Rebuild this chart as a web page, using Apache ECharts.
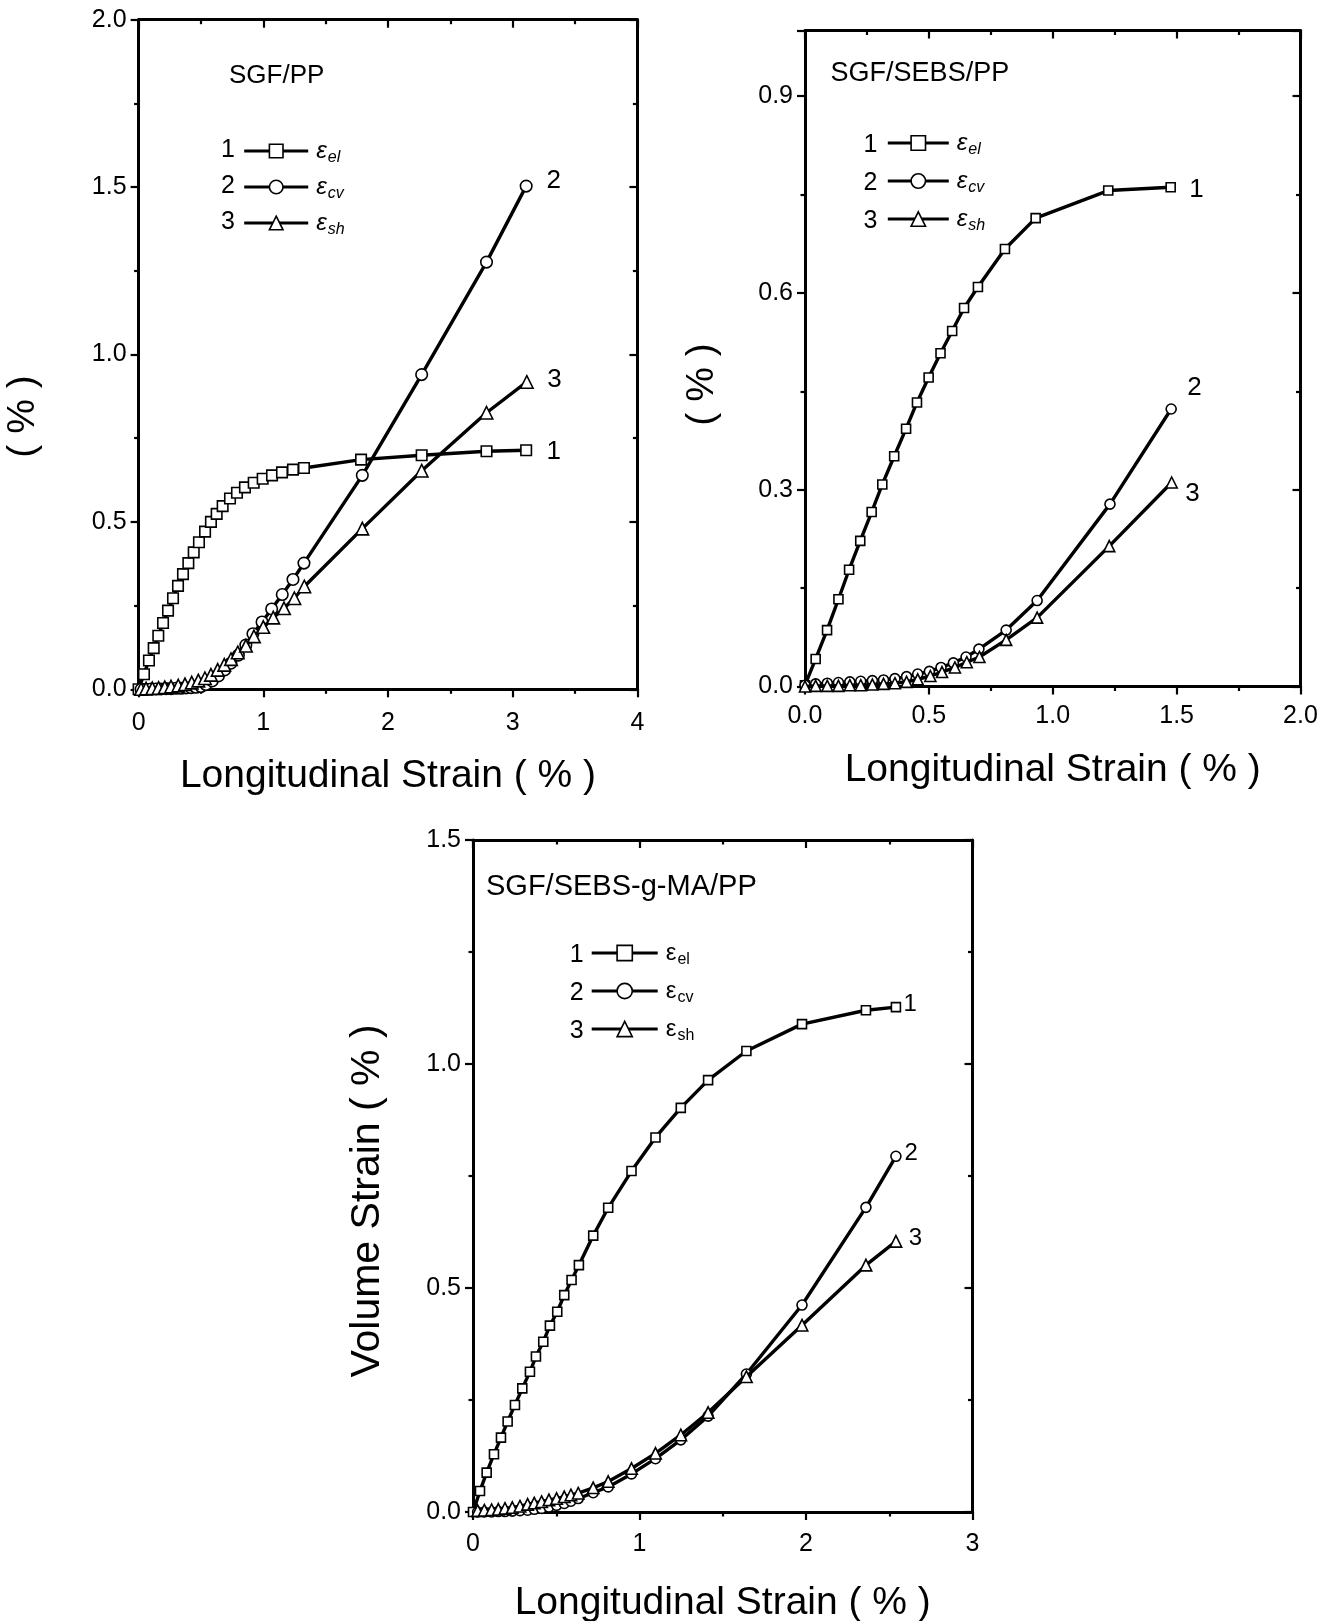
<!DOCTYPE html>
<html><head><meta charset="utf-8">
<script src="https://cdn.jsdelivr.net/npm/echarts@6/dist/echarts.min.js"></script>
<style>html,body{margin:0;padding:0;background:#fff}#c{width:1330px;height:1621px}</style>
</head><body><div id="c"></div><script>
// ---------------- DATA ----------------
// Panel 1 : SGF/PP
const p1_el_x = [0, 0.043, 0.083, 0.121, 0.158, 0.196, 0.236, 0.276, 0.316, 0.356, 0.399, 0.442, 0.484, 0.533, 0.58, 0.626, 0.674, 0.733, 0.789, 0.853, 0.923, 0.995, 1.07, 1.15, 1.238, 1.326, 1.784, 2.27, 2.79, 3.108];
const p1_el_y = [0, 0.045, 0.086, 0.123, 0.16, 0.198, 0.235, 0.272, 0.309, 0.344, 0.377, 0.409, 0.439, 0.471, 0.5, 0.524, 0.547, 0.57, 0.587, 0.603, 0.617, 0.629, 0.639, 0.648, 0.656, 0.661, 0.686, 0.699, 0.711, 0.714];
const p1_cv_x = [0.02, 0.06, 0.10, 0.14, 0.18, 0.22, 0.26, 0.30, 0.34, 0.38, 0.42, 0.46, 0.50, 0.54, 0.59, 0.64, 0.69, 0.74, 0.80, 0.86, 0.917, 0.99, 1.067, 1.152, 1.238, 1.326, 1.794, 2.27, 2.79, 3.108];
const p1_cv_y = [0.000, 0.000, 0.001, 0.001, 0.001, 0.002, 0.002, 0.003, 0.003, 0.004, 0.005, 0.006, 0.008, 0.014, 0.025, 0.040, 0.058, 0.078, 0.102, 0.132, 0.166, 0.201, 0.240, 0.283, 0.328, 0.377, 0.639, 0.940, 1.276, 1.503];
const p1_sh_x = [0.02, 0.06, 0.11, 0.16, 0.21, 0.26, 0.318, 0.372, 0.426, 0.479, 0.532, 0.58, 0.634, 0.687, 0.741, 0.795, 0.861, 0.925, 1.0, 1.08, 1.166, 1.249, 1.329, 1.794, 2.27, 2.79, 3.113];
const p1_sh_y = [0.001, 0.002, 0.003, 0.004, 0.006, 0.008, 0.011, 0.015, 0.020, 0.026, 0.033, 0.043, 0.058, 0.073, 0.090, 0.110, 0.130, 0.158, 0.186, 0.214, 0.242, 0.272, 0.307, 0.480, 0.653, 0.826, 0.918];
// Panel 2 : SGF/SEBS/PP
const p2_el_x = [0, 0.043, 0.089, 0.135, 0.178, 0.223, 0.269, 0.312, 0.360, 0.408, 0.452, 0.499, 0.547, 0.594, 0.642, 0.698, 0.807, 0.931, 1.224, 1.476];
const p2_el_y = [0.002, 0.042, 0.086, 0.133, 0.178, 0.222, 0.266, 0.308, 0.351, 0.393, 0.433, 0.471, 0.508, 0.542, 0.577, 0.609, 0.667, 0.714, 0.756, 0.761];
const p2_cv_x = [0.0, 0.043, 0.090, 0.135, 0.181, 0.225, 0.272, 0.317, 0.363, 0.41, 0.455, 0.502, 0.549, 0.599, 0.65, 0.702, 0.812, 0.937, 1.231, 1.478];
const p2_cv_y = [0.002, 0.004, 0.005, 0.006, 0.007, 0.008, 0.009, 0.010, 0.012, 0.015, 0.019, 0.023, 0.029, 0.036, 0.045, 0.057, 0.086, 0.131, 0.278, 0.423];
const p2_sh_x = [0.0, 0.043, 0.090, 0.135, 0.181, 0.225, 0.272, 0.317, 0.363, 0.41, 0.455, 0.506, 0.553, 0.605, 0.653, 0.704, 0.812, 0.937, 1.228, 1.48];
const p2_sh_y = [0.000, 0.001, 0.001, 0.001, 0.002, 0.002, 0.003, 0.004, 0.005, 0.007, 0.011, 0.016, 0.022, 0.029, 0.037, 0.045, 0.071, 0.105, 0.214, 0.311];
// Panel 3 : SGF/SEBS-g-MA/PP
const p3_el_x = [0, 0.042, 0.082, 0.126, 0.168, 0.208, 0.252, 0.296, 0.342, 0.378, 0.422, 0.462, 0.506, 0.548, 0.592, 0.636, 0.722, 0.812, 0.952, 1.096, 1.248, 1.412, 1.642, 1.976, 2.36, 2.54];
const p3_el_y = [0, 0.047, 0.088, 0.129, 0.166, 0.202, 0.239, 0.276, 0.313, 0.347, 0.380, 0.416, 0.447, 0.484, 0.518, 0.551, 0.617, 0.679, 0.761, 0.836, 0.902, 0.964, 1.029, 1.089, 1.12, 1.127];
const p3_cv_x = [0.028, 0.068, 0.112, 0.152, 0.192, 0.236, 0.282, 0.328, 0.368, 0.412, 0.456, 0.502, 0.548, 0.588, 0.632, 0.722, 0.812, 0.952, 1.096, 1.248, 1.412, 1.642, 1.976, 2.36, 2.54];
const p3_cv_y = [0, 0, 0, 0.001, 0.001, 0.002, 0.003, 0.004, 0.006, 0.008, 0.011, 0.015, 0.019, 0.024, 0.030, 0.043, 0.056, 0.085, 0.119, 0.161, 0.214, 0.308, 0.462, 0.68, 0.794];
const p3_sh_x = [0.028, 0.068, 0.112, 0.152, 0.192, 0.236, 0.282, 0.328, 0.368, 0.412, 0.456, 0.502, 0.548, 0.588, 0.632, 0.722, 0.812, 0.952, 1.096, 1.248, 1.412, 1.642, 1.976, 2.36, 2.54];
const p3_sh_y = [0.003, 0.004, 0.005, 0.006, 0.008, 0.010, 0.013, 0.017, 0.020, 0.023, 0.027, 0.030, 0.034, 0.038, 0.042, 0.054, 0.068, 0.097, 0.131, 0.172, 0.222, 0.302, 0.417, 0.551, 0.604];

// tick labels
const p1_xticks = ['0', '1', '2', '3', '4'];
const p1_yticks = ['0.0', '0.5', '1.0', '1.5', '2.0'];
const p2_xticks = ['0.0', '0.5', '1.0', '1.5', '2.0'];
const p2_yticks = ['0.0', '0.3', '0.6', '0.9'];
const p3_xticks = ['0', '1', '2', '3'];
const p3_yticks = ['0.0', '0.5', '1.0', '1.5'];

const titles = ['SGF/PP', 'SGF/SEBS/PP', 'SGF/SEBS-g-MA/PP'];
const curveNumbers = ['1', '2', '3'];
const curveSubs = ['el', 'cv', 'sh'];
const xAxisName = 'Longitudinal Strain ( % )';
const yAxisNames = ['( % )', '( % )', 'Volume Strain ( % )'];

// ---------------- FONTS ----------------
const FONT = 'Liberation Sans, Arial, Helvetica, sans-serif';
function hasFont(name) {
  const ctx = document.createElement('canvas').getContext('2d');
  const probe = '0.5 Longitudinal Strain 1234';
  ctx.font = '40px monospace';
  const a = ctx.measureText(probe).width;
  ctx.font = '40px "' + name + '", monospace';
  const b = ctx.measureText(probe).width;
  return Math.abs(a - b) > 0.5;
}
let TICKFONT = FONT, TICKSIZE = 25, narrow = false;
['Liberation Sans Narrow', 'Arial Narrow'].some(n => {
  if (hasFont(n)) { TICKFONT = '"' + n + '", ' + FONT; TICKSIZE = 29; narrow = true; return true; }
  return false;
});

// ---------------- LAYOUT ----------------
const layout = [
  { grid: {left: 138.6, top: 19.7, width: 498.8, height: 669.6}, yMax: 2.0,
    title: [229, 76, 26], xLblMargin: 21, yLblMargin: 12, xNameGap: 67, yNameGap: 96, yNameShift: 62, yNameSize: 39,
    legend: {x: 242.7, rows: [150.5, 186.5, 222.5], w: 64, h: 17, num: 228, italic: true, eSize: 24, sSize: 16},
    sym: [10.5, 11.5, 12.5], endLbl: [[26.7, 1.3], [26.7, -5.3], [27, -2.6]], endSize: 26 },
  { grid: {left: 805, top: 30.5, width: 495.5, height: 656}, yMax: 1.0,
    title: [830.6, 74, 27], xLblMargin: 17, yLblMargin: 12, xNameGap: 64, yNameGap: 83, yNameShift: 26, yNameSize: 39,
    legend: {x: 886.3, rows: [143, 181, 219], w: 61, h: 18, num: 870.5, italic: true, eSize: 24, sSize: 16},
    sym: [9, 10, 11], endLbl: [[25, 2.8], [22.5, -21.5], [20, 11.5]], endSize: 26 },
  { grid: {left: 473, top: 840, width: 499.5, height: 672}, yMax: 1.5,
    title: [486, 887, 29], xLblMargin: 20, yLblMargin: 12, xNameGap: 72, yNameGap: 85, yNameShift: 25, yNameSize: 41,
    legend: {x: 590.2, rows: [953.5, 991.5, 1029.5], w: 66, h: 19, num: 576.6, italic: false, eSize: 24, sSize: 16},
    sym: [9, 10, 11.5], endLbl: [[13.5, -2.6], [14.5, -3], [18.7, -3.4]], endSize: 24 }
];

const panelData = [
  [[p1_el_x, p1_el_y], [p1_cv_x, p1_cv_y], [p1_sh_x, p1_sh_y]],
  [[p2_el_x, p2_el_y], [p2_cv_x, p2_cv_y], [p2_sh_x, p2_sh_y]],
  [[p3_el_x, p3_el_y], [p3_cv_x, p3_cv_y], [p3_sh_x, p3_sh_y]]
];
const panelTicks = [[p1_xticks, p1_yticks], [p2_xticks, p2_yticks], [p3_xticks, p3_yticks]];
const symbols = ['rect', 'circle', 'triangle'];

const grids = [], xAxes = [], yAxes = [], series = [], legends = [], graphics = [];

function axisCommon(isLabel, inside) {
  return {
    axisLine: {show: true, onZero: false, lineStyle: {color: '#000', width: 3}},
    axisTick: {show: true, inside: inside, length: 8, lineStyle: {color: '#000', width: 2.2}},
    minorTick: {show: true, splitNumber: 2, length: 4.5, lineStyle: {color: '#000', width: 2.2}},
    splitLine: {show: false},
    minorSplitLine: {show: false},
    axisLabel: {show: isLabel}
  };
}

layout.forEach((L, g) => {
  const [xt, yt] = panelTicks[g];
  const xv = xt.map(parseFloat), yv = yt.map(parseFloat);
  const xMin = xv[0], xMax = xv[xv.length - 1], xInt = xv[1] - xv[0];
  const yMin = yv[0], yInt = yv[1] - yv[0];
  grids.push(Object.assign({outerBoundsMode: 'none', containLabel: false}, L.grid));
  const xDec = xt[0].includes('.') ? 1 : 0;
  const yDec = yt[0].includes('.') ? 1 : 0;
  const lblShift = narrow ? -2 : 0;
  // bottom x
  const xb = axisCommon(true, false);
  Object.assign(xb, {type: 'value', gridIndex: g, position: 'bottom', min: xMin, max: xMax, interval: xInt,
    name: xAxisName, nameLocation: 'middle', nameGap: L.xNameGap,
    nameTextStyle: {fontFamily: FONT, fontSize: 39, color: '#000'}});
  xb.axisLabel = {show: true, margin: L.xLblMargin + lblShift, color: '#000', fontFamily: TICKFONT, fontSize: TICKSIZE,
    formatter: v => v.toFixed(xDec), showMinLabel: true, showMaxLabel: true};
  xAxes.push(xb);
  const xtp = axisCommon(false, true);
  Object.assign(xtp, {type: 'value', gridIndex: g, position: 'top', min: xMin, max: xMax, interval: xInt});
  xAxes.push(xtp);
  // left y
  const yl = axisCommon(true, false);
  Object.assign(yl, {type: 'value', gridIndex: g, position: 'left', min: yMin, max: L.yMax, interval: yInt,
    name: yAxisNames[g], nameLocation: 'middle', nameGap: L.yNameGap, nameRotate: 90,
    nameTextStyle: {fontFamily: FONT, fontSize: L.yNameSize, color: '#000', padding: [0, 2 * L.yNameShift, 0, 0]}});
  const yMaxLabel = yv[yv.length - 1];
  yl.axisLabel = {show: true, margin: L.yLblMargin, color: '#000', fontFamily: TICKFONT, fontSize: TICKSIZE,
    formatter: v => (v > yMaxLabel + 1e-9 ? '' : v.toFixed(yDec))};
  yAxes.push(yl);
  const yr = axisCommon(false, true);
  Object.assign(yr, {type: 'value', gridIndex: g, position: 'right', min: yMin, max: L.yMax, interval: yInt});
  yAxes.push(yr);

  // series
  const lg = L.legend;
  const eStyle = {fontFamily: FONT, fontSize: lg.eSize, fontStyle: lg.italic ? 'italic' : 'normal', color: '#000',
    lineHeight: 30, verticalAlign: 'middle', padding: [0, 0, 0, 3]};
  const sStyle = {fontFamily: FONT, fontSize: lg.sSize, fontStyle: lg.italic ? 'italic' : 'normal', color: '#000',
    lineHeight: 30, verticalAlign: 'bottom', padding: [0, 0, 0, 1]};
  panelData[g].forEach((pair, s) => {
    const [xs, ys] = pair;
    const name = 'p' + g + '_' + curveSubs[s];
    const last = xs.length - 1;
    const fs = L.endSize;
    const [dx, dy] = L.endLbl[s];
    series.push({
      type: 'line', name: name, xAxisIndex: 2 * g, yAxisIndex: 2 * g,
      data: xs.map((x, i) => [x, ys[i]]),
      symbol: symbols[s], symbolSize: L.sym[s], showAllSymbol: true, clip: false,
      lineStyle: {color: '#000', width: 3.4},
      itemStyle: {color: '#fff', borderColor: '#000', borderWidth: 1.6},
      label: {show: true, position: 'right', distance: 0, color: '#000', fontFamily: FONT, fontSize: fs,
        formatter: p => (p.dataIndex === last ? curveNumbers[s] : '')},
      labelLayout: {hideOverlap: false, dx: dx - L.sym[s] / 2 - fs * 0.278, dy: dy},
      emphasis: {disabled: true}, z: 2 + s
    });
    // legend row
    legends.push({
      orient: 'horizontal', left: lg.x, top: lg.rows[s] - lg.h / 2 - 3, padding: 0,
      itemWidth: lg.w, itemHeight: lg.h, selectedMode: false, data: [name],
      lineStyle: {width: 3, color: '#000'},
      itemStyle: {color: '#fff', borderColor: '#000', borderWidth: 1.6},
      formatter: n => '{e|ε}{s|' + n.split('_')[1] + '}',
      textStyle: {rich: {e: eStyle, s: sStyle}}
    });
    graphics.push({type: 'text', x: lg.num, y: lg.rows[s] + (g === 0 ? 0 : 2),
      style: {text: curveNumbers[s], fontFamily: FONT, fontSize: 25, fill: '#000', align: 'center', verticalAlign: 'middle'}});
  });
  graphics.push({type: 'text', x: L.title[0], y: L.title[1],
    style: {text: titles[g], fontFamily: FONT, fontSize: L.title[2], fill: '#000', align: 'left', verticalAlign: 'middle'}});
});

const chart = echarts.init(document.getElementById('c'), null, {renderer: 'canvas'});
chart.setOption({
  animation: false,
  backgroundColor: '#fff',
  grid: grids, xAxis: xAxes, yAxis: yAxes, series: series, legend: legends,
  graphic: graphics, tooltip: {show: false}
});
</script></body></html>
